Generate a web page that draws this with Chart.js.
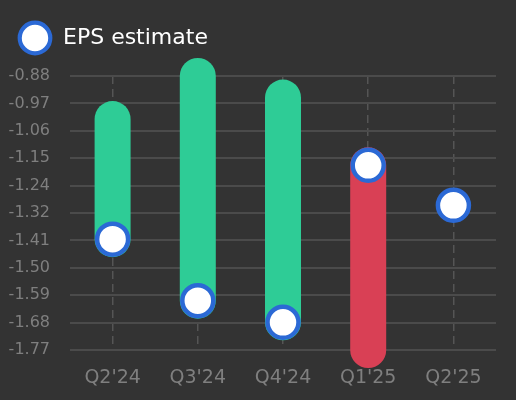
<!DOCTYPE html>
<html>
<head>
<meta charset="utf-8">
<script src="https://cdn.jsdelivr.net/npm/chart.js@4"></script>
<style>
  html, body { margin: 0; padding: 0; background: #333333; }
  #wrap { width: 516px; height: 400px; }
</style>
</head>
<body>
<div id="wrap"><canvas id="c"></canvas></div>
<script>
const quarters = ["Q2'24", "Q3'24", "Q4'24", "Q1'25", "Q2'25"];
const epsEstimate = [-1.41, -1.61, -1.68, -1.17, -1.30];
const epsActual = [-1.02, -0.88, -0.95, -1.77, null];
const yMin = -1.77;
const yMax = -0.88;
const yStep = 0.089;

const GREEN = '#2ecc96';
const RED = '#d94055';
const BLUE = '#2b69d5';

// legend marker image
const marker = document.createElement('canvas');
marker.width = 36; marker.height = 36;
(function () {
  const m = marker.getContext('2d');
  m.beginPath();
  m.arc(18, 18, 15.3, 0, Math.PI * 2);
  m.fillStyle = '#ffffff';
  m.fill();
  m.lineWidth = 4.2;
  m.strokeStyle = BLUE;
  m.stroke();
})();

const datasets = [{
  type: 'line',
  label: 'EPS estimate',
  data: quarters.map((q, i) => ({ x: q, y: epsEstimate[i] })),
  showLine: false,
  pointRadius: 15.5,
  pointHoverRadius: 15.5,
  pointBorderWidth: 4.5,
  pointHoverBorderWidth: 4.5,
  pointBackgroundColor: '#ffffff',
  pointBorderColor: BLUE,
  clip: false
}];

quarters.forEach((q, i) => {
  if (epsActual[i] === null) return;
  const beat = epsActual[i] >= epsEstimate[i];
  datasets.push({
    type: 'line',
    label: 'bar' + i,
    data: [{ x: q, y: epsEstimate[i] }, { x: q, y: epsActual[i] }],
    borderColor: beat ? GREEN : RED,
    borderWidth: 36,
    borderCapStyle: 'round',
    pointRadius: 0,
    pointHoverRadius: 0,
    clip: false
  });
});

const legendHeightPlugin = {
  id: 'legendHeight',
  afterInit(chart) {
    const lg = chart.legend;
    if (!lg) return;
    const orig = lg.fit.bind(lg);
    lg.fit = function () { orig(); this.height = 59; };
  }
};

new Chart(document.getElementById('c'), {
  type: 'line',
  data: { labels: quarters, datasets },
  plugins: [legendHeightPlugin],
  options: {
    responsive: true,
    maintainAspectRatio: false,
    animation: false,
    layout: { padding: { left: 8, top: 17, right: 20, bottom: 0 } },
    plugins: {
      tooltip: { enabled: false },
      legend: {
        display: true,
        position: 'top',
        align: 'start',
        labels: {
          usePointStyle: true,
          pointStyle: marker,
          pointStyleWidth: 34,
          color: '#ffffff',
          font: { family: 'DejaVu Sans', size: 22 },
          padding: 10,
          filter: (item) => item.datasetIndex === 0
        }
      }
    },
    scales: {
      x: {
        type: 'category',
        offset: true,
        grid: {
          offset: false,
          color: '#555555',
          lineWidth: 1.5,
          drawTicks: false
        },
        border: { display: false, dash: [8, 5] },
        ticks: {
          color: '#7f7f7f',
          font: { family: 'DejaVu Sans', size: 19 },
          padding: 17,
          maxRotation: 0
        },
        afterFit(axis) { axis.height = 50; }
      },
      y: {
        min: yMin,
        max: yMax,
        grid: {
          color: '#4b4b4b',
          lineWidth: 2,
          drawTicks: false
        },
        border: { display: false },
        ticks: {
          stepSize: yStep,
          color: '#7f7f7f',
          font: { family: 'DejaVu Sans', size: 16 },
          padding: 20,
          callback: (v) => (Math.round(v * 100) / 100).toFixed(2)
        },
        afterFit(axis) { axis.width = 62; }
      }
    }
  }
});
</script>
</body>
</html>
